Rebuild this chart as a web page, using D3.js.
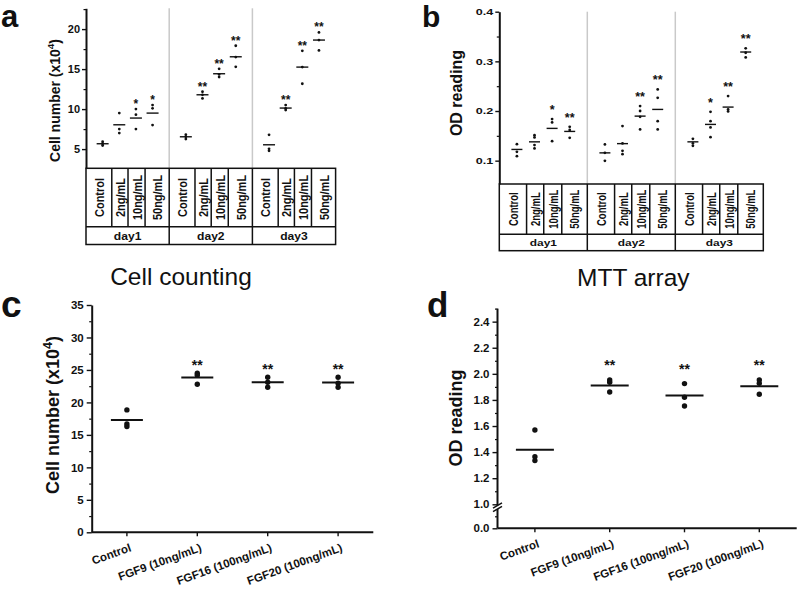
<!DOCTYPE html>
<html><head><meta charset="utf-8">
<script src="https://cdn.jsdelivr.net/npm/d3@7"></script>
<style>
body{margin:0;background:#fff;}
svg{display:block;font-family:"Liberation Sans",Arial,Helvetica,sans-serif;}
</style></head><body>
<svg id="chart" width="800" height="597"></svg>
<script>
// ---------------- data ----------------
const days = ["day1", "day2", "day3"];
const doses = ["Control", "2ng/mL", "10ng/mL", "50ng/mL"];

// panel a: Cell counting (x10^4), order day1..day3 x doses
const cellCountDots = [
  [5.45, 5.67, 5.92], [9.5, 7.5, 7.0], [10.0, 9.3, 7.5], [10.5, 10.1, 8.0],
  [6.8, 6.54, 6.25], [12.17, 11.79, 11.33], [15.04, 14.33, 14.0], [17.92, 16.5, 15.29],
  [6.79, 5.04, 4.79], [10.5, 10.1, 9.88], [17.29, 15.25, 13.17], [19.58, 18.63, 17.33]
];
const cellCountMeans = [5.67, 8.04, 8.88, 9.5, 6.54, 11.79, 14.42, 16.54, 5.54, 10.13, 15.25, 18.63];
const cellCountSig = ["", "", "*", "*", "", "**", "**", "**", "", "**", "**", "**"];
const cellCountTicks = [5, 10, 15, 20];
const cellCountMinor = [7.5, 12.5, 17.5, 22.5];

// panel b: MTT array (OD reading)
const mttDots = [
  [0.1333, 0.1177, 0.109], [0.1514, 0.1468, 0.1313, 0.1246], [0.1837, 0.177, 0.1393], [0.1681, 0.162, 0.146],
  [0.1327, 0.1157, 0.0996], [0.1696, 0.1347, 0.1198, 0.113], [0.21, 0.2, 0.1883, 0.163], [0.2435, 0.2266, 0.1796, 0.1629],
  [0.144, 0.1347, 0.1298], [0.1984, 0.1796, 0.1669, 0.1474], [0.23, 0.2032, 0.1992], [0.3262, 0.3173, 0.308]
];
const mttMeans = [0.1226, 0.1379, 0.165, 0.1589, 0.1157, 0.1343, 0.1897, 0.2032, 0.1379, 0.173, 0.2079, 0.3188];
const mttSig = ["", "", "*", "**", "", "", "**", "**", "", "*", "**", "**"];
const mttTicks = [0.1, 0.2, 0.3, 0.4];
const mttMinor = [0.15, 0.25, 0.35];

// panels c, d: FGF treatments
const fgfGroups = ["Control", "FGF9 (10ng/mL)", "FGF16 (100ng/mL)", "FGF20 (100ng/mL)"];
const fgfCellDots = [[18.85, 16.69, 16.28], [24.49, 24.18, 22.79], [23.87, 23.1, 22.33], [23.87, 22.95, 22.33]];
const fgfCellMeans = [17.31, 23.82, 23.1, 23.05];
const fgfCellSig = ["", "**", "**", "**"];
const fgfCellTicks = [0, 5, 10, 15, 20, 25, 30, 35];
const fgfCellMinor = [2.5, 7.5, 12.5, 17.5, 22.5, 27.5, 32.5];

const fgfOdDots = [[1.57, 1.365, 1.335], [1.953, 1.935, 1.861], [1.925, 1.82, 1.754], [1.953, 1.927, 1.843]];
const fgfOdMeans = [1.419, 1.91, 1.833, 1.904];
const fgfOdSig = ["", "**", "**", "**"];
const fgfOdTicks = [0.0, 1.0, 1.2, 1.4, 1.6, 1.8, 2.0, 2.2, 2.4];
const fgfOdMinor = [0.5, 1.1, 1.3, 1.5, 1.7, 1.9, 2.1, 2.3, 2.5];

// ---------------- drawing ----------------
const svg = d3.select("#chart");
const INK = "#111";
const cellFrac = [0, 0.31, 0.505, 0.71, 1];

function styleAxis(g, domainW) {
  g.select(".domain").attr("stroke", INK).attr("stroke-width", domainW);
  g.selectAll(".tick line").attr("stroke", INK).attr("stroke-width", 1.4);
  g.selectAll(".tick text").attr("fill", INK).attr("font-weight", "bold");
}

function panelLetter(txt, x, y, size) {
  svg.append("text").attr("x", x).attr("y", y).attr("font-size", size)
    .attr("font-weight", "bold").attr("fill", INK).text(txt);
}

function yLabel(x, y, size, parts) {
  const t = svg.append("text").attr("transform", `translate(${x},${y}) rotate(-90)`)
    .attr("text-anchor", "middle").attr("dy", "0.35em")
    .attr("font-size", size).attr("font-weight", "bold").attr("fill", INK);
  parts.forEach(p => {
    const s = t.append("tspan").text(p.t);
    if (p.sup) s.attr("font-size", size * 0.7).attr("dy", -size * 0.4);
    if (p.down) s.attr("dy", size * 0.4);
  });
}

function dayPanel(o) {
  const g = svg.append("g");
  const x = d3.scaleLinear().domain([0, 15]).range([o.x0, o.x1]);
  const y = d3.scaleLinear().domain(o.yDomain).range([o.tableTop, o.yTop]);
  const dayW = (o.x1 - o.x0) / 3;

  // light gray day separators
  g.selectAll("line.sep").data([5, 10]).join("line")
    .attr("x1", d => x(d)).attr("x2", d => x(d))
    .attr("y1", o.yTop).attr("y2", o.tableTop)
    .attr("stroke", "#c9c9c9").attr("stroke-width", 1.5);

  // y axis
  const ax = g.append("g").attr("transform", `translate(${o.x0},0)`)
    .call(d3.axisLeft(y).tickValues(o.ticks).tickSize(4).tickSizeOuter(0).tickPadding(2).tickFormat(o.fmt));
  styleAxis(ax, 2);
  ax.selectAll(".tick text").attr("font-size", o.tickFont)
    .attr("x", -6 / o.sx).attr("transform", `scale(${o.sx},1)`);
  const axm = g.append("g").attr("transform", `translate(${o.x0},0)`)
    .call(d3.axisLeft(y).tickValues(o.minor).tickSize(2.5).tickFormat(""));
  axm.select(".domain").remove();
  axm.selectAll(".tick line").attr("stroke", INK).attr("stroke-width", 1.2);

  const pos = i => x(Math.floor(i / 4) * 5 + (i % 4) + 1);

  // dots
  o.dots.forEach((vals, i) => {
    g.selectAll(null).data(vals).join("circle")
      .attr("cx", pos(i)).attr("cy", d => y(d)).attr("r", o.r).attr("fill", INK);
  });
  // mean lines
  g.selectAll("line.mean").data(o.means).join("line")
    .attr("x1", (d, i) => pos(i) - o.meanW / 2).attr("x2", (d, i) => pos(i) + o.meanW / 2)
    .attr("y1", d => y(d)).attr("y2", d => y(d))
    .attr("stroke", INK).attr("stroke-width", 1.4);
  // significance
  g.selectAll("text.sig").data(o.sig).join("text")
    .attr("x", (d, i) => pos(i)).attr("y", (d, i) => y(d3.max(o.dots[i])) - o.sigOff)
    .attr("text-anchor", "middle").attr("font-size", o.sigFont).attr("font-weight", "bold")
    .attr("fill", INK).text(d => d);

  // table
  const tb = g.append("g").attr("stroke", INK).attr("stroke-width", 1.5).attr("fill", "none");
  tb.append("rect").attr("x", o.x0).attr("y", o.tableTop)
    .attr("width", o.x1 - o.x0).attr("height", o.tableBot - o.tableTop);
  tb.append("line").attr("x1", o.x0).attr("x2", o.x1).attr("y1", o.tableMid).attr("y2", o.tableMid);
  days.forEach((d, di) => {
    const dx0 = o.x0 + di * dayW;
    if (di > 0) tb.append("line").attr("x1", dx0).attr("x2", dx0).attr("y1", o.tableTop).attr("y2", o.tableBot);
    cellFrac.slice(1, 4).forEach(f => {
      tb.append("line").attr("x1", dx0 + f * dayW).attr("x2", dx0 + f * dayW)
        .attr("y1", o.tableTop).attr("y2", o.tableMid);
    });
    doses.forEach((lab, k) => {
      const cx = dx0 + (cellFrac[k] + cellFrac[k + 1]) / 2 * dayW + o.labShift;
      const cy = (o.tableTop + o.tableMid) / 2;
      g.append("text").attr("transform", `translate(${cx},${cy}) scale(${o.sx},1) rotate(-90)`)
        .attr("text-anchor", "middle").attr("dy", "0.36em")
        .attr("font-size", o.catFont).attr("font-weight", "bold").attr("fill", INK).text(lab);
    });
    g.append("text").attr("transform", `translate(${dx0 + dayW / 2},${(o.tableMid + o.tableBot) / 2}) scale(${o.sx},1)`)
      .attr("text-anchor", "middle").attr("dy", "0.36em")
      .attr("font-size", o.dayFont).attr("font-weight", "bold").attr("fill", INK).text(d);
  });
}

function groupPanel(o) {
  const g = svg.append("g");
  const x = d3.scaleBand().domain(fgfGroups).range([o.x0, o.x1]);
  const y = o.y;
  const cx = d => x(d) + x.bandwidth() / 2;

  // y axis
  const ax = g.append("g").attr("transform", `translate(${o.x0},0)`)
    .call(d3.axisLeft(y).tickValues(o.ticks).tickSize(5).tickSizeOuter(0).tickPadding(3).tickFormat(o.fmt));
  styleAxis(ax, 2);
  ax.selectAll(".tick text").attr("font-size", 11.5);
  const axm = g.append("g").attr("transform", `translate(${o.x0},0)`)
    .call(d3.axisLeft(y).tickValues(o.minor).tickSize(2.5).tickFormat(""));
  axm.select(".domain").remove();
  axm.selectAll(".tick line").attr("stroke", INK).attr("stroke-width", 1.2);

  if (o.broken) {
    ax.select(".domain").remove();
    const [b0, b1] = o.broken;
    g.append("line").attr("x1", o.x0).attr("x2", o.x0).attr("y1", o.yTop).attr("y2", b0)
      .attr("stroke", INK).attr("stroke-width", 2);
    g.append("line").attr("x1", o.x0).attr("x2", o.x0).attr("y1", b1).attr("y2", o.yBot)
      .attr("stroke", INK).attr("stroke-width", 2);
    [b0, b1].forEach(by => g.append("line")
      .attr("x1", o.x0 - 4.5).attr("y1", by + 2.6).attr("x2", o.x0 + 4.5).attr("y2", by - 2.6)
      .attr("stroke", INK).attr("stroke-width", 1.5));
  }

  // x axis
  const xa = g.append("g").attr("transform", `translate(0,${o.yBot})`)
    .call(d3.axisBottom(x).tickSize(4).tickSizeOuter(0).tickFormat(""));
  styleAxis(xa, 2);
  xa.select(".domain").attr("d", `M${o.x0},0H${o.x1}`);
  g.selectAll("text.xl").data(fgfGroups).join("text")
    .attr("transform", d => `translate(${cx(d) + 5},${o.yBot + 18.5}) rotate(-20)`)
    .attr("text-anchor", "end").attr("font-size", 11.5).attr("font-weight", "bold")
    .attr("fill", INK).text(d => d);

  // dots
  o.dots.forEach((vals, i) => {
    g.selectAll(null).data(vals).join("circle")
      .attr("cx", cx(fgfGroups[i])).attr("cy", d => y(d)).attr("r", 2.7).attr("fill", INK);
  });
  g.selectAll("line.mean").data(o.means).join("line")
    .attr("x1", (d, i) => cx(fgfGroups[i]) - o.meanW / 2).attr("x2", (d, i) => cx(fgfGroups[i]) + o.meanW / 2)
    .attr("y1", d => y(d)).attr("y2", d => y(d)).attr("stroke", INK).attr("stroke-width", 2);
  g.selectAll("text.sig").data(o.sig).join("text")
    .attr("x", (d, i) => cx(fgfGroups[i])).attr("y", (d, i) => y(d3.max(o.dots[i])) - o.sigOff)
    .attr("text-anchor", "middle").attr("font-size", 14).attr("font-weight", "bold")
    .attr("fill", INK).text(d => d);
}

// panel a
dayPanel({
  x0: 86, x1: 335.6, yTop: 8.3, tableTop: 168.3, tableMid: 226.7, tableBot: 244.5,
  yDomain: [2.6, 22.6], ticks: cellCountTicks, minor: cellCountMinor, fmt: d3.format("d"),
  dots: cellCountDots, means: cellCountMeans, sig: cellCountSig,
  r: 1.4, meanW: 12, sigFont: 12, sigOff: 1.2, tickFont: 10, sx: 1.1,
  catFont: 11, dayFont: 11, labShift: 0.8
});
yLabel(55, 100.5, 14, [{t: "Cell number (x10"}, {t: "4", sup: true}, {t: ")", down: true}]);
svg.append("text").attr("x", 181).attr("y", 285).attr("text-anchor", "middle")
  .attr("font-size", 24.5).attr("fill", INK).text("Cell counting");
panelLetter("a", 1, 27, 31);

// panel b
dayPanel({
  x0: 499.3, x1: 763.3, yTop: 11.7, tableTop: 184, tableMid: 234.3, tableBot: 250.7,
  yDomain: [0.053, 0.4], ticks: mttTicks, minor: mttMinor, fmt: d3.format(".1f"),
  dots: mttDots, means: mttMeans, sig: mttSig,
  r: 1.4, meanW: 11, sigFont: 12.5, sigOff: 5.2, tickFont: 9, sx: 1.4,
  catFont: 9.5, dayFont: 8.5, labShift: 0
});
yLabel(456.5, 93, 16, [{t: "OD reading"}]);
svg.append("text").attr("x", 633.3).attr("y", 286).attr("text-anchor", "middle")
  .attr("font-size", 24.5).attr("fill", INK).text("MTT array");
panelLetter("b", 422, 27, 30);

// panel c
groupPanel({
  x0: 91.7, x1: 373.3, yTop: 305, yBot: 532.3,
  y: d3.scaleLinear().domain([0, 35]).range([532.3, 305]),
  ticks: fgfCellTicks, minor: fgfCellMinor, fmt: d3.format("d"),
  dots: fgfCellDots, means: fgfCellMeans, sig: fgfCellSig, meanW: 32, sigOff: 3.5
});
yLabel(52.5, 415, 18, [{t: "Cell number (x10"}, {t: "4", sup: true}, {t: ")", down: true}]);
panelLetter("c", 1, 317, 37);

// panel d (broken axis)
groupPanel({
  x0: 497.5, x1: 796.7, yTop: 308.6, yBot: 528.3,
  y: d3.scaleLinear().domain([0, 1, 2.5]).range([528.3, 504.3, 308.6]),
  ticks: fgfOdTicks, minor: fgfOdMinor, fmt: d3.format(".1f"),
  dots: fgfOdDots, means: fgfOdMeans, sig: fgfOdSig, meanW: 38, sigOff: 9.5,
  broken: [505.5, 509]
});
yLabel(456, 418, 18, [{t: "OD reading"}]);
panelLetter("d", 427, 317, 35);
</script>
</body></html>
